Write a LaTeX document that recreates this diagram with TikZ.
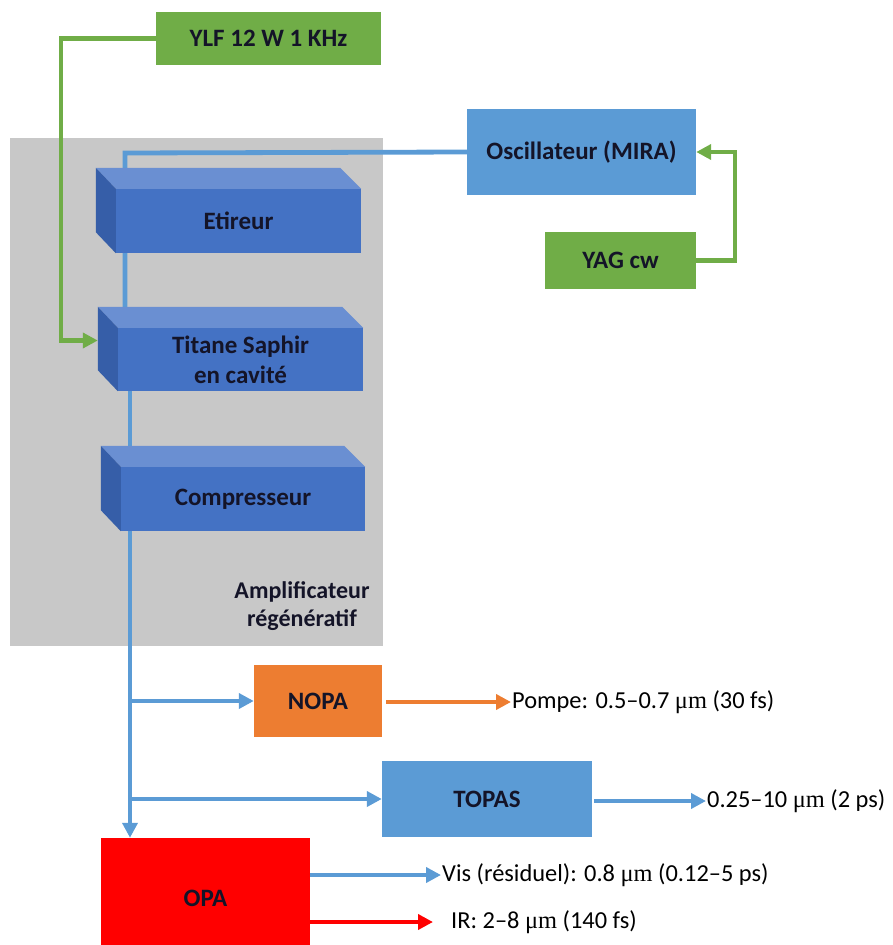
\documentclass[tikz,border=0pt]{standalone}
\usepackage{fontspec}
\setmainfont{Carlito}
\newfontfamily\serifmu{Liberation Serif}
\usetikzlibrary{arrows.meta,calc}
\definecolor{grn}{RGB}{112,173,71}
\definecolor{lblue}{RGB}{91,155,213}
\definecolor{dblue}{RGB}{68,114,196}
\definecolor{topblue}{RGB}{106,143,210}
\definecolor{sideblue}{RGB}{54,94,168}
\definecolor{orng}{RGB}{237,125,49}
\definecolor{redc}{RGB}{255,0,0}
\definecolor{grayreg}{RGB}{200,200,200}
\definecolor{txt}{RGB}{20,20,40}
\pgfdeclarelayer{bg}\pgfdeclarelayer{beamlayer}
\pgfsetlayers{bg,beamlayer,main}
\newcommand{\mum}{{\serifmu μm}}
\begin{document}
\begin{tikzpicture}[x=1pt,y=-1pt,
 box/.style={rectangle, inner sep=0pt, text=txt, font=\fontsize{25}{30}\selectfont\bfseries, align=center},
 lbl/.style={anchor=west, inner sep=1pt, text=black, font=\fontsize{24.4}{28}\selectfont},
 beam/.style={draw=lblue, line width=4.8pt},
 gline/.style={draw=grn, line width=4.8pt},
 arr/.style={-{Triangle[length=15pt,width=15pt]}},
]
\useasboundingbox (0,0) rectangle (893,945);
\clip (0,0) rectangle (893,945);
% region
\begin{pgfonlayer}{bg}
\node[fill=grayreg, minimum width=373pt, minimum height=508pt, inner sep=0pt] (reg) at (196.5,392) {};
\end{pgfonlayer}
\node[text=txt, font=\fontsize{24}{28}\selectfont\bfseries, align=center] (amp) at (302,606) {Amplificateur\\régénératif};
% boxes
\node[box, fill=grn, minimum width=225pt, minimum height=53pt] (ylf) at (268.5,38.5) {YLF 12 W 1 KHz};
\node[box, fill=lblue, minimum width=229pt, minimum height=86pt] (osc) at (581.5,152) {Oscillateur (MIRA)};
\node[box, fill=grn, minimum width=151pt, minimum height=57pt] (yag) at (620.5,260.5) {YAG cw};
\node[box, fill=dblue, minimum width=245pt, minimum height=64pt] (eti) at (238.5,221) {Etireur};
\node[box, fill=dblue, minimum width=245pt, minimum height=63pt] (tis) at (240.5,359.5) {Titane Saphir\\en cavité};
\node[box, fill=dblue, minimum width=244pt, minimum height=64pt] (comp) at (243,499) {Compresseur};
\foreach \n in {eti,tis,comp}{
  \fill[topblue] (\n.north west) -- (\n.north east) -- ++(-21,-21) -- ($(\n.north west)+(-20,-21)$) -- cycle;
  \fill[sideblue] (\n.north west) -- ++(-20,-21) -- ($(\n.south west)+(-20,-21)$) -- (\n.south west) -- cycle;
}
\node[box, fill=orng, minimum width=128pt, minimum height=72pt] (nopa) at (318,701) {NOPA};
\node[box, fill=lblue, minimum width=210pt, minimum height=76pt] (topas) at (487,799) {TOPAS};
\node[box, fill=redc, minimum width=209pt, minimum height=120pt] (opa) at (205.5,898) {OPA};
% labels
\node[lbl] (pompe) at (511,702) {Pompe: 0.5–0.7 \mum{} (30 fs)};
\node[lbl] (topl) at (706,801) {0.25–10 \mum{} (2 ps)};
\node[lbl] (vis) at (441,875) {Vis (résiduel): 0.8 \mum{} (0.12–5 ps)};
\node[lbl] (ir) at (450,922) {IR: 2–8 \mum{} (140 fs)};
% beam lines
\coordinate (c1) at (125,153);
\coordinate (trunk) at (130,391);
\begin{pgfonlayer}{beamlayer}
\draw[beam] (osc.west) -- (c1) -- (c1 |- tis.north);
\draw[beam, arr] (trunk) -- (trunk |- opa.north);
\end{pgfonlayer}
\draw[beam, arr] (trunk |- nopa.west) -- (nopa.west);
\draw[beam, arr] (trunk |- topas.west) -- (topas.west);
\draw[draw=orng, line width=4.8pt, arr] ($(nopa.east)+(4,1)$) -- (pompe.west);
\draw[beam, arr] ($(topas.east)+(2,2)$) -- (topl.west);
\draw[beam, arr] (opa.east |- vis.west) -- (vis.west);
\draw[draw=redc, line width=4.8pt, arr, shorten >=17pt] (opa.east |- ir.west) -- (ir.west);
% pump lines
\coordinate (g1) at (61,200);
\coordinate (tisL) at ($(tis.west)+(-20,-19)$);
\draw[gline, arr] (ylf.west) -| (g1) |- (tisL);
\coordinate (g2) at (735,200);
\draw[gline, arr] (yag.east) -| (g2) |- (osc.east);
\end{tikzpicture}
\end{document}
